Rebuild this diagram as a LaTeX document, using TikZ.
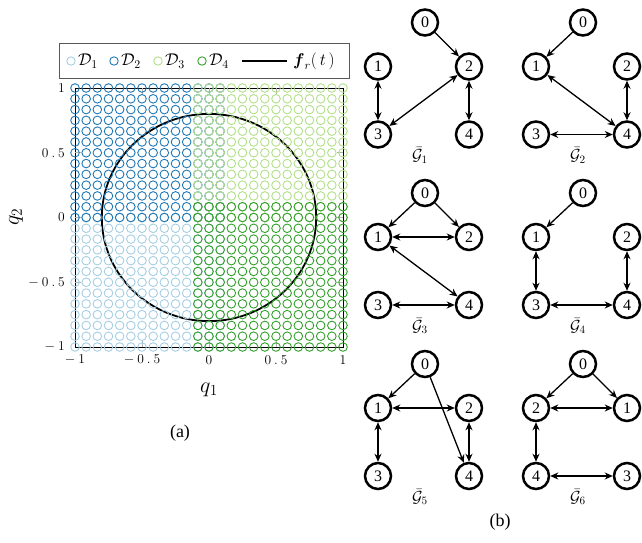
\RequirePackage{fix-cm}
\documentclass[tikz,border=0pt]{standalone}
\usepackage{amsmath}
\usepackage{fontspec}
\newfontfamily\timesf{Liberation Serif}
\usetikzlibrary{arrows.meta}
\definecolor{cDa}{HTML}{A6CEE3}
\definecolor{cDb}{HTML}{1F78B4}
\definecolor{cDc}{HTML}{B2DF8A}
\definecolor{cDd}{HTML}{33A02C}
\newcommand{\tkm}{\hspace{3pt}}
\newcommand{\mkgraph}[9]{%
  \node[gnode] (#1#4) at (#2+47,#3) {#4};
  \node[gnode] (#1#5) at (#2,#3+44) {#5};
  \node[gnode] (#1#6) at (#2+91,#3+44) {#6};
  \node[gnode] (#1#7) at (#2,#3+112) {#7};
  \node[gnode] (#1#8) at (#2+91,#3+112) {#8};
  \node[glabel] (#1lab) at (#2+42,#3+133) {$\bar{\mathcal{G}}_{#9}$};
}
\begin{document}
\begin{tikzpicture}[x=1pt,y=-1pt,
  gnode/.style={circle,draw,line width=2.5pt,minimum size=26pt,inner sep=0pt,font=\timesf\fontsize{16}{16}\selectfont},
  glabel/.style={font=\fontsize{16}{16}\selectfont,inner sep=0pt},
  arr/.style={line width=1.3pt,-{Stealth[length=8pt,width=7pt]}},
  darr/.style={line width=1.3pt,{Stealth[length=8pt,width=7pt]}-{Stealth[length=8pt,width=7pt]}},
  mk/.style={line width=0.9pt},
  tickc/.style={gray!60,line width=0.6pt},
  ticklab/.style={font=\fontsize{13.5}{13.5}\selectfont,inner sep=0pt},
  leg/.style={font=\fontsize{17}{17}\selectfont,inner sep=0pt,anchor=west},
  axlab/.style={font=\fontsize{22}{22}\selectfont,inner sep=0pt},
  caplab/.style={font=\timesf\fontsize{18}{18}\selectfont,inner sep=0pt}
]
\useasboundingbox (0,0) rectangle (642,542);

% legend
\draw[black!65,line width=0.9pt] (59,43) rectangle (349,78);
\draw[cDa,mk] (71,61) circle (4.2pt);
\node[leg] (l1) at (78,61) {$\mathcal{D}_1$};
\draw[cDb,mk] (114,61) circle (4.2pt);
\node[leg] (l2) at (121,61) {$\mathcal{D}_2$};
\draw[cDc,mk] (158,61) circle (4.2pt);
\node[leg] (l3) at (165,61) {$\mathcal{D}_3$};
\draw[cDd,mk] (202,61) circle (4.2pt);
\node[leg] (l4) at (209,61) {$\mathcal{D}_4$};
\coordinate (la) at (242,61);
\coordinate (lb) at (287,61);
\draw[black,line width=1.6pt] (la) -- (lb);
\node[leg] (l5) at (293,61) {$\boldsymbol{f}_{r}(\,t\,)$};

% plot
\begin{scope}[shift={(209pt,-217.5pt)},x=134pt,y=129.5pt]
  \draw[black,line width=1pt] (-1,-1) rectangle (1,1);
  \foreach \t in {-0.5,0,0.5}{
    \draw[tickc] (\t,-1) -- ++(0,6pt);
    \draw[tickc] (\t,1) -- ++(0,-6pt);
    \draw[tickc] (-1,\t) -- ++(6pt,0);
    \draw[tickc] (1,\t) -- ++(-6pt,0);
  }
  \draw[black,line width=1.8pt] (0,0) ellipse [x radius=107.2pt, y radius=103.6pt];
  \foreach \i in {0,...,13}{\foreach \j in {0,...,12}{\draw[cDa,mk] ({-1+\i/12},{-1+\j/12}) circle (4.3pt);}}
  \foreach \i in {0,...,13}{\foreach \j in {12,...,24}{\draw[cDb,mk] ({-1+\i/12},{-1+\j/12}) circle (4.3pt);}}
  \foreach \i in {11,...,24}{\foreach \j in {12,...,24}{\draw[cDc,mk] ({-1+\i/12},{-1+\j/12}) circle (4.3pt);}}
  \foreach \i in {11,...,24}{\foreach \j in {0,...,13}{\draw[cDd,mk] ({-1+\i/12},{-1+\j/12}) circle (4.3pt);}}
  % tick labels
  \node[ticklab,yshift=-13pt] (xt1) at (-1,-1) {$-\tkm1$};
  \node[ticklab,yshift=-13pt] (xt2) at (-0.5,-1) {$-\tkm0\tkm.\tkm5$};
  \node[ticklab,yshift=-13pt] (xt3) at (0,-1) {$0$};
  \node[ticklab,yshift=-13pt] (xt4) at (0.5,-1) {$0\tkm.\tkm5$};
  \node[ticklab,yshift=-13pt] (xt5) at (1,-1) {$1$};
  \node[ticklab,anchor=east,xshift=-10pt] (yt1) at (-1,-1) {$-\tkm1$};
  \node[ticklab,anchor=east,xshift=-10pt] (yt2) at (-1,-0.5) {$-\tkm0\tkm.\tkm5$};
  \node[ticklab,anchor=east,xshift=-10pt] (yt3) at (-1,0) {$0$};
  \node[ticklab,anchor=east,xshift=-10pt] (yt4) at (-1,0.5) {$0\tkm.\tkm5$};
  \node[ticklab,anchor=east,xshift=-10pt] (yt5) at (-1,1) {$1$};
\end{scope}
\node[axlab] (q1) at (209,390) {$q_1$};
\node[axlab,rotate=90] (q2) at (16,217) {$q_2$};
\node[caplab] (capa) at (180,433) {(a)};
\node[caplab] (capb) at (500,522) {(b)};

% graphs
\mkgraph{a}{378}{22.5}{0}{1}{2}{3}{4}{1}
\draw[arr] (a0) -- (a2);
\draw[darr] (a1) -- (a3);
\draw[darr] (a2) -- (a3);
\draw[darr] (a2) -- (a4);

\mkgraph{b}{536}{22.5}{0}{1}{2}{3}{4}{2}
\draw[arr] (b0) -- (b1);
\draw[darr] (b1) -- (b4);
\draw[darr] (b2) -- (b4);
\draw[darr] (b3) -- (b4);

\mkgraph{c}{378}{193}{0}{1}{2}{3}{4}{3}
\draw[arr] (c0) -- (c1);
\draw[arr] (c0) -- (c2);
\draw[darr] (c1) -- (c2);
\draw[darr] (c1) -- (c4);
\draw[darr] (c3) -- (c4);

\mkgraph{d}{536}{193}{0}{1}{2}{3}{4}{4}
\draw[arr] (d0) -- (d1);
\draw[darr] (d1) -- (d3);
\draw[darr] (d2) -- (d4);
\draw[darr] (d3) -- (d4);

\mkgraph{e}{378}{364}{0}{1}{2}{3}{4}{5}
\draw[arr] (e0) -- (e1);
\draw[arr] (e0) -- (e4);
\draw[darr] (e1) -- (e2);
\draw[darr] (e1) -- (e3);
\draw[darr] (e2) -- (e4);

\mkgraph{f}{536}{364}{0}{2}{1}{4}{3}{6}
\draw[arr] (f0) -- (f2);
\draw[arr] (f0) -- (f1);
\draw[darr] (f2) -- (f1);
\draw[darr] (f2) -- (f4);
\draw[darr] (f4) -- (f3);
\end{tikzpicture}
\end{document}
